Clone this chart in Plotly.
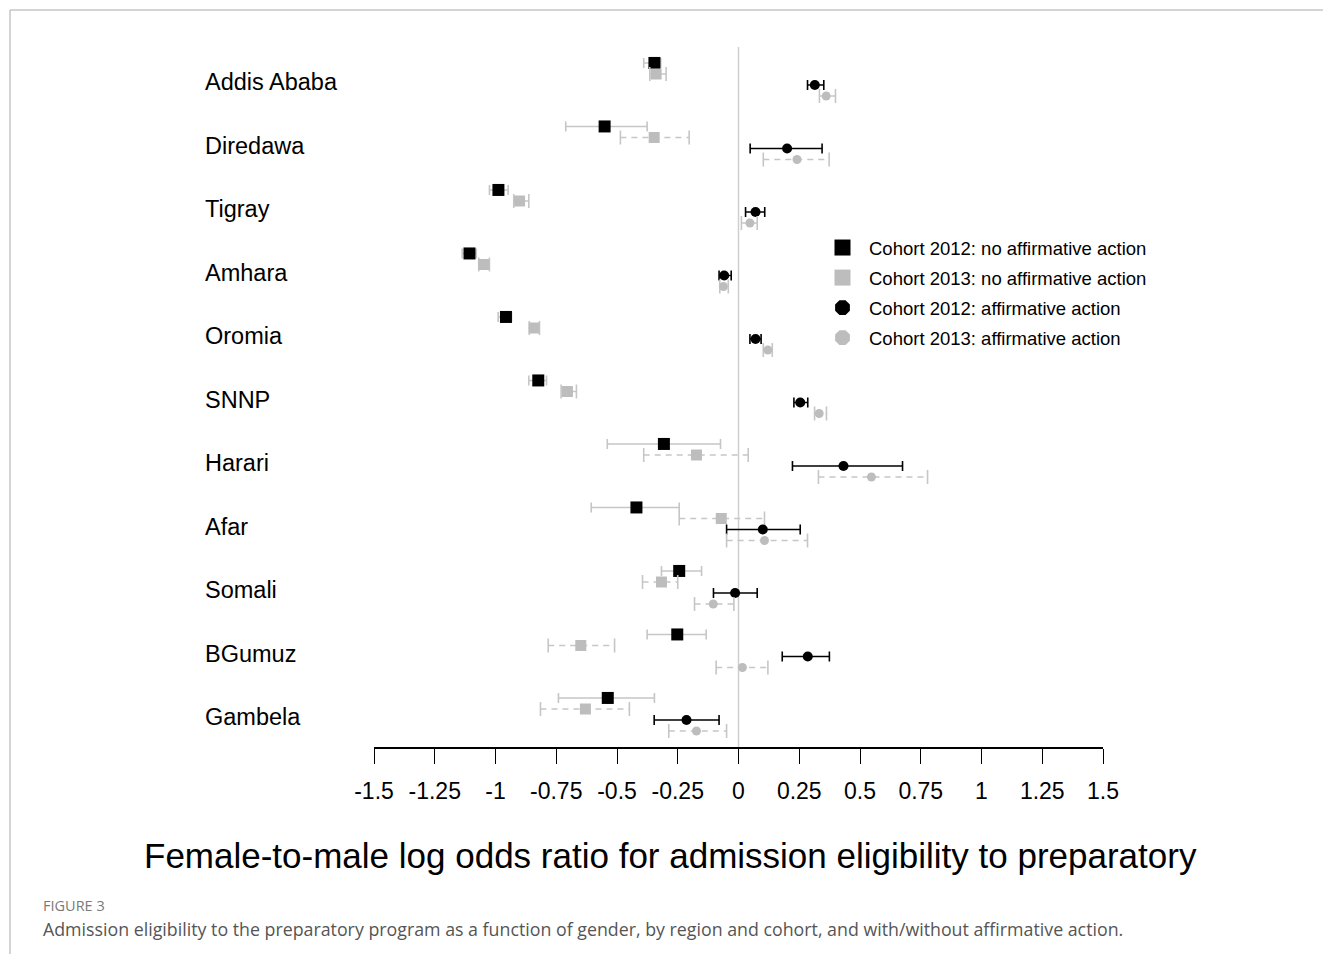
import plotly.graph_objects as go

regions = ["Addis Ababa", "Diredawa", "Tigray", "Amhara", "Oromia", "SNNP",
           "Harari", "Afar", "Somali", "BGumuz", "Gambela"]

est_2012_noaa = [-0.346, -0.551, -0.988, -1.107, -0.957, -0.824, -0.307, -0.420, -0.244, -0.252, -0.538]
lo_2012_noaa = [-0.390, -0.711, -1.025, -1.137, -0.989, -0.863, -0.540, -0.606, -0.317, -0.376, -0.741]
hi_2012_noaa = [-0.320, -0.376, -0.948, -1.079, -0.934, -0.790, -0.074, -0.244, -0.152, -0.133, -0.346]

est_2013_noaa = [-0.339, -0.347, -0.901, -1.048, -0.841, -0.704, -0.173, -0.071, -0.317, -0.649, -0.630]
lo_2013_noaa = [-0.365, -0.486, -0.925, -1.069, -0.861, -0.730, -0.390, -0.244, -0.395, -0.783, -0.815]
hi_2013_noaa = [-0.298, -0.203, -0.863, -1.025, -0.819, -0.667, 0.040, 0.107, -0.250, -0.510, -0.449]

est_2012_aa = [0.314, 0.200, 0.070, -0.059, 0.070, 0.254, 0.432, 0.100, -0.014, 0.285, -0.214]
lo_2012_aa = [0.284, 0.048, 0.029, -0.080, 0.047, 0.228, 0.222, -0.049, -0.103, 0.180, -0.347]
hi_2012_aa = [0.351, 0.344, 0.108, -0.030, 0.093, 0.285, 0.675, 0.254, 0.077, 0.374, -0.080]

est_2013_aa = [0.361, 0.241, 0.047, -0.062, 0.121, 0.332, 0.547, 0.107, -0.104, 0.016, -0.173]
lo_2013_aa = [0.333, 0.102, 0.012, -0.077, 0.102, 0.313, 0.329, -0.049, -0.181, -0.092, -0.287]
hi_2013_aa = [0.399, 0.373, 0.077, -0.042, 0.139, 0.362, 0.778, 0.284, -0.019, 0.121, -0.049]

x_ticks = [-1.5, -1.25, -1, -0.75, -0.5, -0.25, 0, 0.25, 0.5, 0.75, 1, 1.25, 1.5]
x_ticklabels = ["-1.5", "-1.25", "-1", "-0.75", "-0.5", "-0.25", "0", "0.25", "0.5", "0.75", "1", "1.25", "1.5"]

legend_names = ["Cohort 2012: no affirmative action", "Cohort 2013: no affirmative action",
                "Cohort 2012: affirmative action", "Cohort 2013: affirmative action"]

# layout constants (page is offset by the 8px body margin)
OFF = 8
W, H = 1331 - 2 * OFF, 962 - 2 * OFF
X_LEFT, X_RIGHT, Y_AXIS, Y_TOP = 374, 1103, 747, 40
L, R = X_LEFT - OFF, W - (X_RIGHT - OFF)
T, B = Y_TOP - OFF, H - (Y_AXIS - OFF)
PW, PH = W - L - R, H - T - B
ROW0_PX, ROW_PX = 82, 63.5
offsets = [-0.30, -0.126, 0.047, 0.22]
GRAY = "#bdbdbd"
EGRAY = "#c6c6c6"
FONT = "Liberation Sans, Arial, sans-serif"
CAPFONT = "Open Sans, Noto Sans, sans-serif"


def py(p):
    """page pixel y -> paper y"""
    return (Y_AXIS - p) / PH


def px(p):
    """page pixel x -> paper x"""
    return (p - X_LEFT) / PW


rows = list(range(len(regions)))
fig = go.Figure()

series = [
    (est_2012_noaa, lo_2012_noaa, hi_2012_noaa, "square", "black", 12, EGRAY, False),
    (est_2013_noaa, lo_2013_noaa, hi_2013_noaa, "square", GRAY, 11, EGRAY, True),
    (est_2012_aa, lo_2012_aa, hi_2012_aa, "circle", "black", 10, "black", False),
    (est_2013_aa, lo_2013_aa, hi_2013_aa, "circle", GRAY, 9, EGRAY, True),
]

for k, (est, lo, hi, sym, col, size, ecol, dashed) in enumerate(series):
    ys = [r + offsets[k] for r in rows]
    if dashed:
        lx, ly = [], []
        for a, b, y in zip(lo, hi, ys):
            lx += [a, b, None]
            ly += [y, y, None]
        fig.add_trace(go.Scatter(x=lx, y=ly, mode="lines", showlegend=False, hoverinfo="skip",
                                 line=dict(color=ecol, width=1.6, dash="6px,5px")))
        fig.add_trace(go.Scatter(x=lo + hi, y=ys + ys, mode="markers", showlegend=False, hoverinfo="skip",
                                 marker=dict(symbol="line-ns", size=10, line=dict(color=ecol, width=1.6))))
        fig.add_trace(go.Scatter(x=est, y=ys, mode="markers", showlegend=False, name=legend_names[k],
                                 marker=dict(symbol=sym, size=size, color=col, line=dict(width=0))))
    else:
        fig.add_trace(go.Scatter(
            x=est, y=ys, mode="markers", showlegend=False, name=legend_names[k],
            marker=dict(symbol=sym, size=size, color=col, line=dict(width=0)),
            error_x=dict(type="data", symmetric=False,
                         array=[h - e for h, e in zip(hi, est)],
                         arrayminus=[e - l for e, l in zip(est, lo)],
                         color=ecol, thickness=1.6, width=5)))

# legend-only traces
leg_specs = [("square", "black", 16), ("square", GRAY, 16), ("octagon", "black", 16), ("octagon", GRAY, 16)]
for k, (sym, col, size) in enumerate(leg_specs):
    fig.add_trace(go.Scatter(x=[None], y=[None], mode="markers", name=legend_names[k],
                             legendgroup=f"g{k}",
                             marker=dict(symbol=sym, size=size, color=col, line=dict(width=0))))

y_top = (Y_TOP - ROW0_PX) / ROW_PX
y_bot = (Y_AXIS - ROW0_PX) / ROW_PX

shapes = [
    dict(type="line", xref="x", yref="y", x0=0, x1=0, y0=(47 - ROW0_PX) / ROW_PX, y1=y_bot,
         line=dict(color="#cfcfcf", width=1.5), layer="below"),
    dict(type="line", xref="paper", yref="paper", x0=px(10), x1=px(1331), y0=py(10), y1=py(10),
         line=dict(color="#aaaaaa", width=1)),
    dict(type="line", xref="paper", yref="paper", x0=px(10), x1=px(10), y0=py(10), y1=py(962),
         line=dict(color="#aaaaaa", width=1)),
]

annotations = []
for r, name in zip(rows, regions):
    annotations.append(dict(text=name, xref="paper", yref="y", x=px(203), y=r, xanchor="left",
                            yanchor="middle", showarrow=False, font=dict(family=FONT, size=23.5, color="black")))
annotations.append(dict(text="Female-to-male log odds ratio for admission eligibility to preparatory",
                        xref="paper", yref="paper", x=px(670), y=py(855), xanchor="center",
                        yanchor="middle", showarrow=False, font=dict(family=FONT, size=35, color="black")))
annotations.append(dict(text="FIGURE 3", xref="paper", yref="paper", x=px(41), y=py(905),
                        xanchor="left", yanchor="middle", showarrow=False,
                        font=dict(family=CAPFONT, size=14.5, color="#7a7a7a")))
annotations.append(dict(text="Admission eligibility to the preparatory program as a function of gender, by region and cohort, and with/without affirmative action.",
                        xref="paper", yref="paper", x=px(41), y=py(929),
                        xanchor="left", yanchor="middle", showarrow=False,
                        font=dict(family=CAPFONT, size=17.8, color="#555555")))

fig.update_layout(
    width=W, height=H, autosize=False,
    margin=dict(l=L, r=R, t=T, b=B, pad=0),
    paper_bgcolor="white", plot_bgcolor="white",
    showlegend=True,
    legend=dict(x=px(816), y=py(229), xanchor="left", yanchor="top",
                font=dict(family=FONT, size=18.5, color="black"),
                tracegroupgap=3, itemsizing="trace", itemwidth=43, bgcolor="rgba(0,0,0,0)"),
    xaxis=dict(range=[-1.5, 1.5], tickvals=x_ticks, ticktext=x_ticklabels,
               showgrid=False, zeroline=False, showline=True, linecolor="black", linewidth=1.5,
               ticks="outside", ticklen=15, tickwidth=1.3, tickcolor="black", ticklabelstandoff=8,
               tickfont=dict(family=FONT, size=23, color="black"), fixedrange=True),
    yaxis=dict(range=[y_bot, y_top], visible=False, showgrid=False, zeroline=False, fixedrange=True),
    shapes=shapes,
    annotations=annotations,
)

fig.write_html("out.html")
